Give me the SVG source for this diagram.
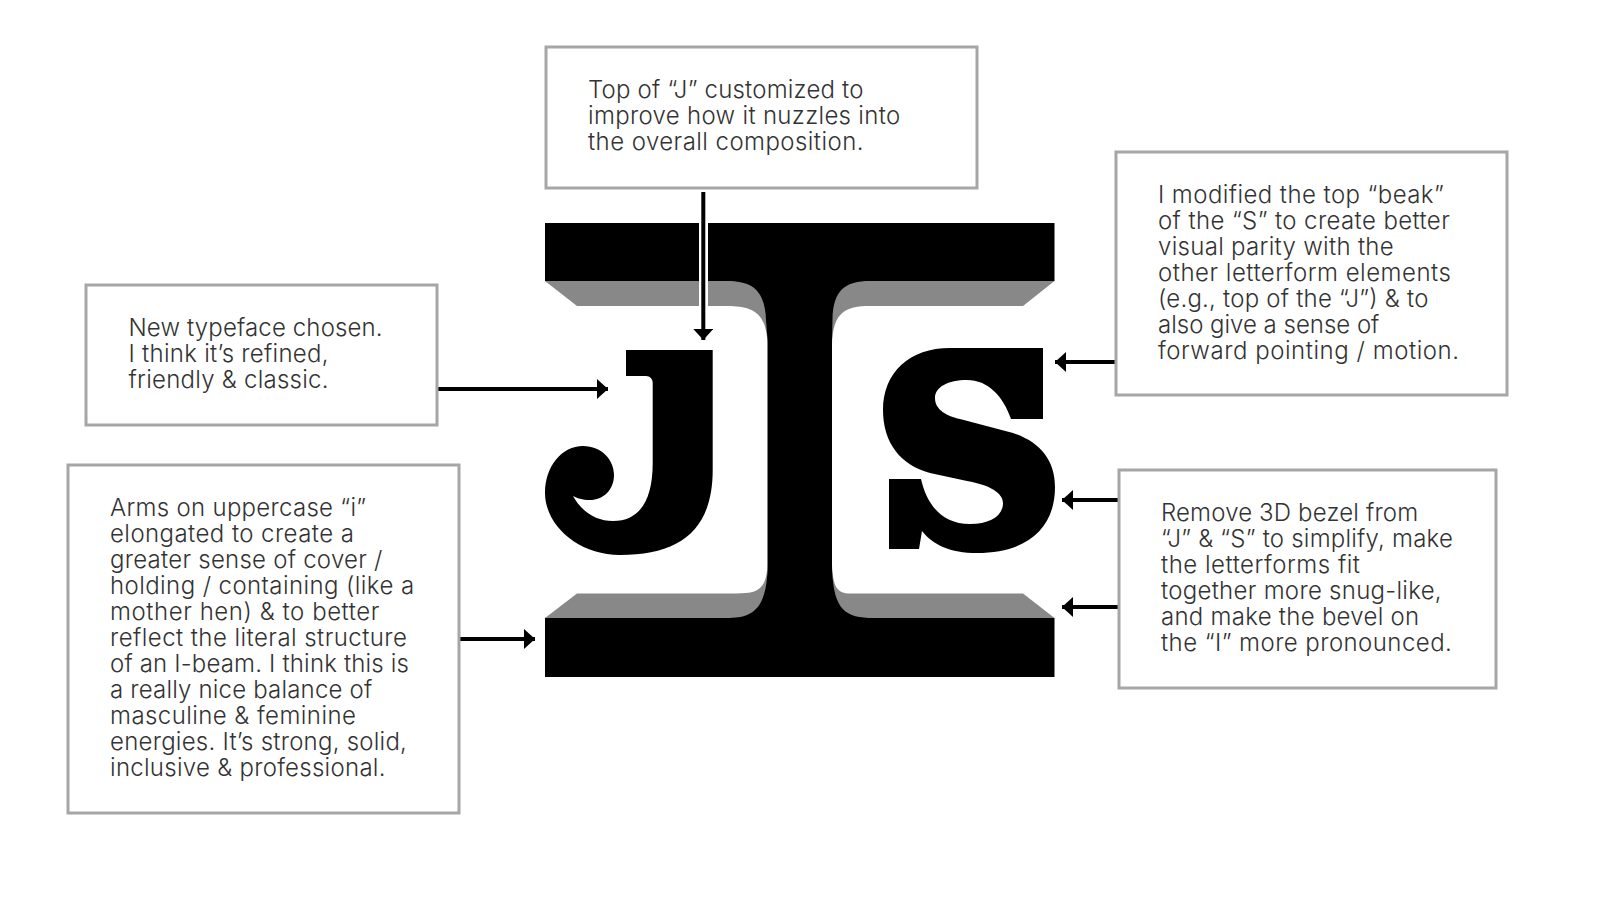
<svg xmlns="http://www.w3.org/2000/svg" width="1600" height="900" viewBox="0 0 1600 900">
<defs>
<marker id="ah" markerUnits="userSpaceOnUse" markerWidth="12" markerHeight="20" refX="11" refY="10" orient="auto"><path d="M0 0L11 10L0 20Z" fill="#000"/></marker>
</defs>
<style>
.box{fill:#fff;stroke:#a6a6a6;stroke-width:3}
.t{font-family:"Inter","Liberation Sans",sans-serif;font-size:24px;font-weight:300;fill:#333}
.c{stroke:#000;stroke-width:4;fill:none;marker-end:url(#ah)}
</style>
<rect width="1600" height="900" fill="#fff"/>
<g id="ibeam">
<path fill="#888" d="M545 281L577 306H727C752 306 767 312 767.500 345V281ZM1054.500 281L1023 306H870C845 306 833 312 832 345V281ZM545 618L577 593.500H736C758 593.500 766 590 767.500 565V618ZM1054.500 618L1023 593.500H850C838 593.500 833 588 832 565V618Z"/>
<path fill="#000" d="M545 223H1054.500V281H870C845 281 833 290 832.500 320L832 340V570C834 610 845 618 874 618H1054.500V677H545V618H726C750 618 766 612 767.500 570V340L766 320C765 290 752 281 727 281H545Z"/>
</g>
<g id="letter-j"><path fill="#000" d="M626 350H712.700V470C712.700 530 680 555 620 555C578 555 545 525 545 493C545 466 562 446 583 446C602 446 614 460 614 475C614 490 603 500 590 500C582 500 577 498 573 496C582 512 596 521 613 521C640 521 652.700 500 652.700 463V383C652.700 379 650 376 646 376H626Z"/></g>
<g id="letter-s"><path fill="#000" d="M950 348H1043V419H1011C1003 396 988 380 967 380C948 380 935 387 935 398C935 410 947 416 960 419L1013 433C1040 442 1055 460 1055 487C1055 530 1025 553 977 553C950 553 933 545 922 531L919 549H889V479H921C927 505 942 524 970 524C990 524 1003 516 1003 503C1003 493 990 485 967 481L930 473C900 465 883 442 883 410C883 372 910 348 950 348Z"/></g>
<g id="connectors">
<rect x="699" y="223" width="9" height="83" fill="#fff"/>
<path class="c" d="M703.300 192V340"/>
<path class="c" d="M438 389H608"/>
<path class="c" d="M460 639H535"/>
<path class="c" d="M1115 362H1055"/>
<path class="c" d="M1118 500H1062"/>
<path class="c" d="M1118 607H1062"/>
</g>
<g id="n1"><rect class="box" x="546" y="47" width="431" height="141"/>
<text class="t" x="588" y="98" textLength="275.500">Top of “J” customized to</text>
<text class="t" x="588" y="124" textLength="312.200">improve how it nuzzles into</text>
<text class="t" x="588" y="150" textLength="275.500">the overall composition.</text></g>
<g id="n2"><rect class="box" x="1116" y="152" width="391" height="243"/>
<text class="t" x="1158" y="203" textLength="285.700">I modified the top “beak”</text>
<text class="t" x="1158" y="229" textLength="291.800">of the “S” to create better</text>
<text class="t" x="1158" y="255" textLength="235.700">visual parity with the</text>
<text class="t" x="1158" y="281" textLength="292.900">other letterform elements</text>
<text class="t" x="1158" y="307" textLength="270.400">(e.g., top of the “J”) &amp; to</text>
<text class="t" x="1158" y="333" textLength="221.400">also give a sense of</text>
<text class="t" x="1158" y="359" textLength="301">forward pointing / motion.</text></g>
<g id="n3"><rect class="box" x="86" y="285" width="351" height="140"/>
<text class="t" x="128.500" y="336" textLength="254.100">New typeface chosen.</text>
<text class="t" x="128.500" y="362" textLength="200">I think it’s refined,</text>
<text class="t" x="128.500" y="388" textLength="200">friendly &amp; classic.</text></g>
<g id="n4"><rect class="box" x="68" y="465" width="391" height="348"/>
<text class="t" x="110" y="516" textLength="256.100">Arms on uppercase “i”</text>
<text class="t" x="110" y="542" textLength="243.900">elongated to create a</text>
<text class="t" x="110" y="568" textLength="272.400">greater sense of cover /</text>
<text class="t" x="110" y="594" textLength="304.100">holding / containing (like a</text>
<text class="t" x="110" y="620" textLength="269.400">mother hen) &amp; to better</text>
<text class="t" x="110" y="646" textLength="296.900">reflect the literal structure</text>
<text class="t" x="110" y="672" textLength="299">of an I-beam. I think this is</text>
<text class="t" x="110" y="698" textLength="262.200">a really nice balance of</text>
<text class="t" x="110" y="724" textLength="245.900">masculine &amp; feminine</text>
<text class="t" x="110" y="750" textLength="296.900">energies. It’s strong, solid,</text>
<text class="t" x="110" y="776" textLength="275.500">inclusive &amp; professional.</text></g>
<g id="n5"><rect class="box" x="1119" y="470" width="377" height="218"/>
<text class="t" x="1161" y="521" textLength="257.100">Remove 3D bezel from</text>
<text class="t" x="1161" y="547" textLength="291.800">“J” &amp; “S” to simplify, make</text>
<text class="t" x="1161" y="573" textLength="199">the letterforms fit</text>
<text class="t" x="1161" y="599" textLength="280.600">together more snug-like,</text>
<text class="t" x="1161" y="625" textLength="258.200">and make the bevel on</text>
<text class="t" x="1161" y="651" textLength="290.800">the “I” more pronounced.</text></g>
</svg>
